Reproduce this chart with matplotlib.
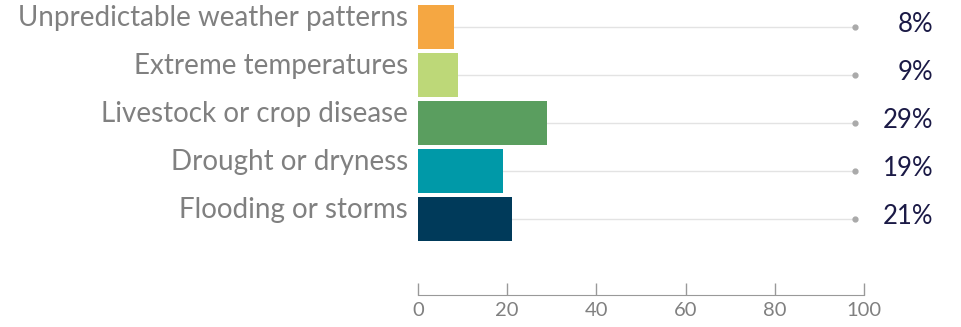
import matplotlib
matplotlib.use("Agg")
import matplotlib.pyplot as plt
import matplotlib.transforms as mtransforms

categories = ["Unpredictable weather patterns", "Extreme temperatures",
              "Livestock or crop disease", "Drought or dryness", "Flooding or storms"]
values = [8, 9, 29, 19, 21]
value_labels = ["8%", "9%", "29%", "19%", "21%"]
colors = ["#F5A742", "#BDD878", "#5A9E5F", "#0099A8", "#003A5A"]
xticks = [0, 20, 40, 60, 80, 100]

plt.rcParams['font.family'] = ['Lato', 'DejaVu Sans']
fig = plt.figure(figsize=(9.62, 3.27), dpi=100)
W, H = 962, 327
ax = fig.add_axes([418 / W, 1 - 295 / H, (864 - 418) / W, (295 - 3) / H])

fig_x = mtransforms.blended_transform_factory(fig.transFigure, ax.transData)

ypos = list(range(len(categories)))
ax.barh(ypos, values, height=0.9, color=colors, zorder=3)
for y, v, lab in zip(ypos, values, value_labels):
    ax.plot([v, 98], [y, y], color="#E3E3E3", lw=1, zorder=1)
    ax.plot([98], [y], marker="o", ms=3.5, color="#AAAAAA", zorder=2)
    ax.text(933 / W, y + 0.1, lab, transform=fig_x, fontsize=18.5,
            color="#1B1A46", ha="right", va="baseline")
    ax.text(408 / W, y - 0.02, categories[y], transform=fig_x,
            fontsize=20, color="#808080", ha="right", va="baseline")

ax.set_xlim(0, 100)
ax.set_ylim(5.583, -0.5)
ax.set_yticks([])
ax.set_xticks(xticks)
ax.tick_params(axis='x', direction='in', length=9, width=1, color="#999999",
               labelcolor="#808080", labelsize=14.5, pad=5)
for s in ["top", "right", "left"]:
    ax.spines[s].set_visible(False)
ax.spines["bottom"].set_color("#999999")
ax.patch.set_alpha(0)
fig.savefig("out.png", dpi=100)
